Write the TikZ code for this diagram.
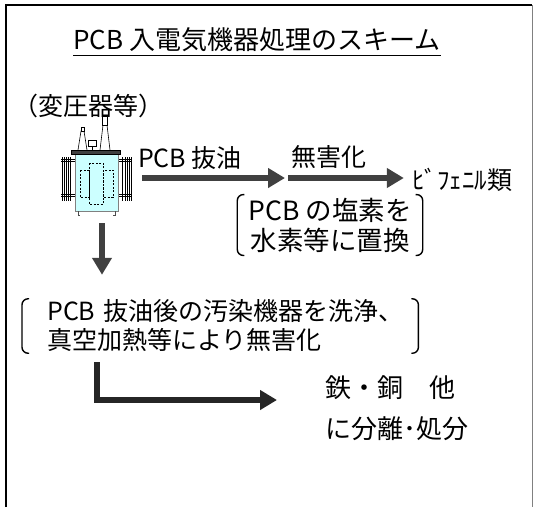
\documentclass[tikz,border=0pt]{standalone}
\usepackage{fontspec}
\setmainfont{Noto Sans CJK JP}
\usetikzlibrary{arrows.meta}

\begin{document}
\begin{tikzpicture}[
    x=1pt, y=-1pt,
    font=\fontsize{25}{30}\selectfont,
    txt/.style={inner sep=0pt, anchor=center},
    para/.style={inner sep=0pt, align=left, anchor=west},
    bracketed/.style={inner xsep=11pt, inner ysep=3pt, align=center},
    fat/.style={-{Triangle[width=19pt,length=17pt]}, draw=arrowgray, line width=6pt},
    paren/.style={draw=black, line width=1.4pt, rounded corners=6pt},
    fin/.style={draw=black, line width=0.6pt}
]
\definecolor{arrowgray}{RGB}{64,64,64}
\definecolor{tankcyan}{RGB}{204,255,255}
\definecolor{tankedge}{RGB}{128,128,128}

\useasboundingbox (0,0) rectangle (534,507);
\draw[line width=2pt] (6,507) -- (6,5) -- (532,5);
\draw[line width=1pt, draw=tankedge] (532,5) -- (532,507);

\node[txt, font=\fontsize{26}{30}\selectfont] (title) at (257,40) {PCB 入電気機器処理のスキーム};
\draw[line width=1.3pt] ([yshift=-3pt]title.south west) -- ([yshift=-3pt]title.south east);

\node[txt] (kind) at (88,106) {（変圧器等）};

% transformer
\node[minimum width=80pt, minimum height=100pt, inner sep=0pt] (xfmr) at (102,166) {};
\foreach \x in {62,64,66,68,70.5,122.5,125,127,129,131}
    \draw[fin] (\x,157) -- (\x,201);
\foreach \y in {159,161.5,194,196.5} {
    \draw[fin] (61,\y) -- (75,\y);
    \draw[fin] (118,\y) -- (132,\y);
}
\filldraw[fill=tankcyan, draw=tankedge, line width=0.8pt] (75,154) rectangle (118,211);
\draw[line width=0.8pt, draw=tankedge!60!black] (78,211) -- (78,215) -- (80,215) (115,211) -- (115,215) -- (113,215);
\draw[dashed, line width=0.6pt, dash pattern=on 2pt off 1.5pt] (89,163) rectangle (103,204);
\draw[dashed, line width=0.6pt, dash pattern=on 2pt off 1.5pt] (80,170) rectangle (89,197);
\draw[dashed, line width=0.6pt, dash pattern=on 2pt off 1.5pt] (103,170) rectangle (113,197);
\filldraw[fill=white, line width=0.6pt] (78,150) -- (81,131) -- (84,131) -- (87,150);
\filldraw[fill=white, line width=0.6pt] (81,127) rectangle (84,131);
\filldraw[fill=white, line width=0.6pt] (100,150) -- (103,125) -- (107,125) -- (110,150);
\filldraw[fill=white, line width=0.6pt] (102.5,116) rectangle (107.5,125);
\filldraw[fill=white, line width=0.6pt] (88,140) rectangle (96,146);
\draw[line width=0.6pt] (92,146) -- (92,150);
\filldraw[fill=arrowgray, draw=black, line width=0.6pt] (71,150) rectangle (120,154);

\coordinate (mid) at (287,178);
\node[txt] (drain) at (190,158) {PCB 抜油};
\node[txt] (detox) at (329,157) {無害化};
\node[txt] (biph) at (462,180) {ﾋﾞﾌｪﾆﾙ類};
\draw[fat, shorten >=2pt] (xfmr.east |- mid) -- (mid);
\draw[fat, shorten <=1pt, shorten >=8pt] (mid) -- (mid -| biph.west);

\node[bracketed, font=\fontsize{26.5}{30}\selectfont] (hydro) at (330,225) {PCB の塩素を\\水素等に置換};
\draw[paren] ([xshift=7pt]hydro.north west) -- (hydro.north west) -- (hydro.south west) -- ([xshift=7pt]hydro.south west);
\draw[paren] ([xshift=-7pt]hydro.north east) -- (hydro.north east) -- (hydro.south east) -- ([xshift=-7pt]hydro.south east);

\node[para, inner xsep=25pt, inner ysep=1pt, text width=346pt, font=\fontsize{25}{29}\selectfont] (clean) at (22,326) {PCB~抜油後の汚染機器を洗浄、\\真空加熱等により無害化};
\draw[paren] ([xshift=7pt]clean.north west) -- (clean.north west) -- (clean.south west) -- ([xshift=7pt]clean.south west);
\draw[paren] ([xshift=-7pt]clean.north east) -- (clean.north east) -- (clean.south east) -- ([xshift=-7pt]clean.south east);
\draw[fat, shorten <=7pt, shorten >=24pt] (xfmr.south) -- (xfmr.south |- clean.north);

\node[para, font=\fontsize{26}{30}\selectfont] (metal) at (325,408) {鉄・銅　他\\[11pt]に分離･処分};
\coordinate (bend) at (97,400);
\draw[fat, draw=black!85, shorten <=9pt, shorten >=48pt] (clean.south -| bend) |- (metal.west |- bend);
\end{tikzpicture}
\end{document}
